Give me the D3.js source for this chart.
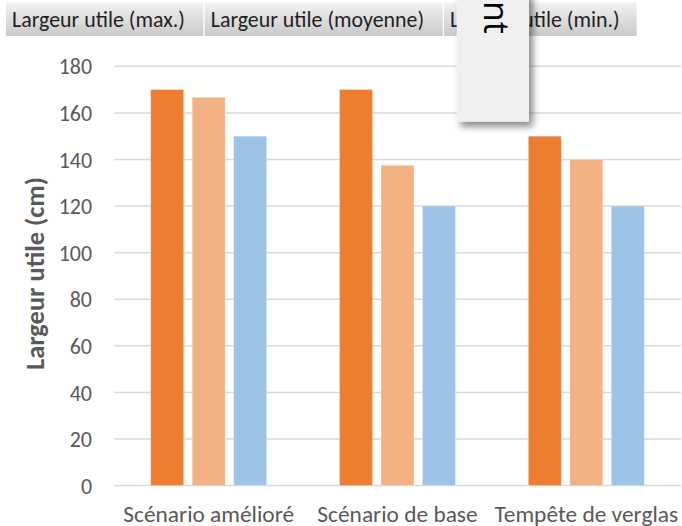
<!DOCTYPE html>
<html><head><meta charset="utf-8">
<script src="https://cdn.jsdelivr.net/npm/d3@7"></script>
<style>
html,body{margin:0;padding:0;background:#fff;overflow:hidden;}
svg{display:block;font-family:Carlito, Lato, "Open Sans", sans-serif;}
</style></head>
<body><svg id="c" width="682" height="526"></svg>
<script>
const categories = ["Scénario amélioré", "Scénario de base", "Tempête de verglas"];
const seriesNames = ["Largeur utile (max.)", "Largeur utile (moyenne)", "Largeur utile (min.)"];
const maxValues = [170, 170, 150];
const meanValues = [166.7, 137.5, 140];
const minValues = [150, 120, 120];
const yTicks = [0, 20, 40, 60, 80, 100, 120, 140, 160, 180];
const yTitle = "Largeur utile (cm)";
const popupText = "nt";

const seriesValues = [maxValues, meanValues, minValues];
const colors = ["#ED7D31", "#F4B183", "#9DC3E6"];

const svg = d3.select("#c");
const defs = svg.append("defs");

function fit(sel, target) {
  const n = sel.node();
  const base = parseFloat(sel.attr("font-size"));
  const w = n.getComputedTextLength();
  if (w > 0) sel.attr("font-size", base * target / w);
  return sel;
}

const plotL = 114.3, plotR = 681, y0 = 485.6, yTop = 66.3;
const y = d3.scaleLinear().domain([0, 180]).range([y0, yTop]);
const x0 = d3.scaleBand().domain(categories).range([plotL, plotL + 3 * 188.8]).paddingInner(0.386).paddingOuter(0.193);
const x1 = d3.scaleBand().domain(d3.range(3)).range([0, x0.bandwidth()]).paddingInner(0.205).paddingOuter(0);

// gridlines
const gAxis = svg.append("g");
gAxis.selectAll("line.grid").data(yTicks).join("line")
  .attr("x1", plotL).attr("x2", plotR)
  .attr("y1", d => y(d)).attr("y2", d => y(d))
  .attr("stroke", "#d9d9d9").attr("stroke-width", 1.5);

// y tick labels via axis
const yAxis = d3.axisLeft(y).tickValues(yTicks).tickSize(0).tickPadding(0);
const ya = svg.append("g").attr("transform", "translate(92,0)").call(yAxis);
ya.select(".domain").remove();
ya.selectAll("text").attr("font-size", 20).attr("fill", "#595959")
  .attr("font-family", "Carlito, Lato, sans-serif").attr("dy", "0.35em");
const t180 = ya.selectAll("text").filter(d => d === 180);
const base180 = t180.node().getComputedTextLength();
const tickFs = 20 * 33.4 / base180;
ya.selectAll("text").attr("font-size", tickFs);

// bars
const groups = svg.append("g").selectAll("g").data(categories).join("g")
  .attr("transform", d => `translate(${x0(d)},0)`);
groups.selectAll("rect").data((d, i) => seriesValues.map((s, k) => ({k, v: s[i]}))).join("rect")
  .attr("x", d => x1(d.k)).attr("width", x1.bandwidth())
  .attr("y", d => y(d.v)).attr("height", d => y(0) - y(d.v))
  .attr("fill", d => colors[d.k])
  .attr("stroke", "#ffffff").attr("stroke-opacity", 0.35).attr("stroke-width", 0.8);

// x category labels via axis
const xAxis = d3.axisBottom(x0).tickSize(0).tickPadding(0);
const xa = svg.append("g").attr("transform", "translate(0,521.5)").call(xAxis);
xa.select(".domain").remove();
xa.selectAll("text").attr("font-size", 20).attr("fill", "#595959")
  .attr("font-family", "Carlito, Lato, sans-serif").attr("dy", 0);
const tc = xa.selectAll("text").filter(d => d === categories[0]);
const catFs = 20 * 171 / tc.node().getComputedTextLength();
xa.selectAll("text").attr("font-size", catFs);

// y title
const yt = svg.append("text").attr("transform", "translate(44,273.5) rotate(-90)")
  .attr("text-anchor", "middle").attr("font-weight", "bold").attr("font-size", 20)
  .attr("fill", "#595959").text(yTitle);
fit(yt, 193);

// header field buttons
const grad = defs.append("linearGradient").attr("id", "hb").attr("x1", 0).attr("x2", 0).attr("y1", 0).attr("y2", 1);
grad.append("stop").attr("offset", "0%").attr("stop-color", "#f2f2f2");
grad.append("stop").attr("offset", "55%").attr("stop-color", "#dcdcdc");
grad.append("stop").attr("offset", "100%").attr("stop-color", "#c9c9c9");
const boxes = [[6, 203.3], [204.7, 442.7], [444, 636.7]];
const hg = svg.append("g");
hg.selectAll("rect").data(boxes).join("rect")
  .attr("x", d => d[0]).attr("y", 2.3).attr("width", d => d[1] - d[0]).attr("height", 33.7)
  .attr("fill", "url(#hb)");
const ht = hg.selectAll("text").data(seriesNames).join("text")
  .attr("x", (d, i) => boxes[i][0] + 6).attr("y", 27)
  .attr("font-size", 18).attr("fill", "#1f1f1f").text(d => d);
const hfs = 18 * 173 / ht.filter((d, i) => i === 0).node().getComputedTextLength();
ht.attr("font-size", hfs);

// popup overlay
const sh = defs.append("filter").attr("id", "sh").attr("x", "-30%").attr("y", "-30%").attr("width", "160%").attr("height", "160%");
sh.append("feDropShadow").attr("dx", 4).attr("dy", 5).attr("stdDeviation", 3.5).attr("flood-color", "#000").attr("flood-opacity", 0.45);
svg.append("rect").attr("x", 456.7).attr("y", -10).attr("width", 72.3).attr("height", 131.7)
  .attr("fill", "#f0f0f0").attr("filter", "url(#sh)");
svg.append("text").attr("transform", "translate(483.5,34) rotate(90)")
  .attr("text-anchor", "end").attr("font-size", 34).attr("fill", "#000")
  .attr("font-family", "'Open Sans', sans-serif").text(popupText);
</script></body></html>
